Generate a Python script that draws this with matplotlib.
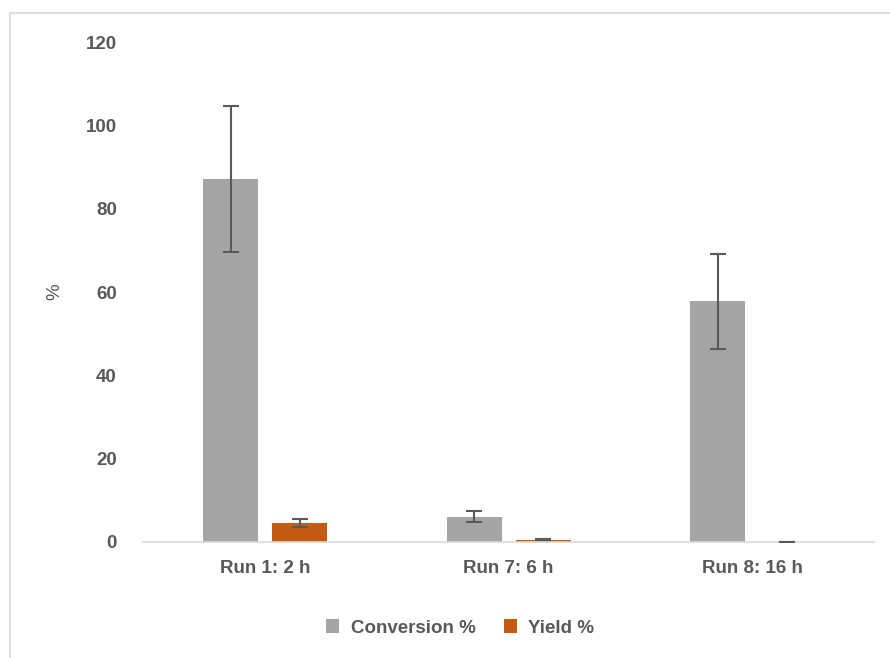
import matplotlib.pyplot as plt
from matplotlib.lines import Line2D
import numpy as np

categories = ["Run 1: 2 h", "Run 7: 6 h", "Run 8: 16 h"]
conversion = [87.1, 6.1, 57.8]
conversion_err = [17.5, 1.3, 11.4]
yield_pct = [4.6, 0.5, 0.0]
yield_err = [1.0, 0.1, 0.05]

plt.rcParams['font.family'] = ['Liberation Sans', 'DejaVu Sans']

fig = plt.figure(figsize=(8.9, 6.58), dpi=100)
ax = fig.add_axes([0.161, 0.1763, 0.821, 0.7597])

x = np.arange(len(categories))
w = 0.226
off = 0.1417
gray = "#A5A5A5"
orange = "#C55A11"
ecol = "#595959"

ax.bar(x - off, conversion, w, color=gray, label="Conversion %", zorder=2)
ax.bar(x + off, yield_pct, w, color=orange, label="Yield %", zorder=2)
ax.errorbar(x - off, conversion, yerr=conversion_err, fmt="none", ecolor=ecol,
            elinewidth=1.5, capsize=6, capthick=1.5, zorder=3)
ax.errorbar(x + off, yield_pct, yerr=yield_err, fmt="none", ecolor=ecol,
            elinewidth=1.5, capsize=6, capthick=1.5, zorder=3)

ax.set_xlim(-0.5, 2.5)
ax.set_ylim(0, 120)
ax.set_yticks(range(0, 121, 20))
ax.set_xticks(x)
ax.set_xticklabels(categories)
for s in ["top", "right", "left"]:
    ax.spines[s].set_visible(False)
ax.spines["bottom"].set_color("#D9D9D9")
ax.spines["bottom"].set_linewidth(1.2)
ax.tick_params(axis="both", length=0, labelsize=13.5, colors="#595959")
ax.tick_params(axis="y", pad=19)
ax.tick_params(axis="x", pad=13)
for lab in ax.get_xticklabels() + ax.get_yticklabels():
    lab.set_fontweight("bold")
ax.set_ylabel("%", fontsize=13.5, color="#595959")
ax.yaxis.set_label_coords(-0.11, 0.5)

leg = fig.legend(*ax.get_legend_handles_labels(), loc="center",
                 bbox_to_anchor=(460 / 890, 1 - 628 / 658), ncol=2, frameon=False,
                 prop={"weight": "bold", "size": 13.5}, handlelength=0.7,
                 handleheight=0.7, columnspacing=1.5, handletextpad=0.6)
for t in leg.get_texts():
    t.set_color("#595959")

# chart frame (only top and left edges are visible in the picture)
fig.add_artist(Line2D([10 / 890, 1], [1 - 12.5 / 658] * 2, color="#D9D9D9", lw=1.2,
                      transform=fig.transFigure))
fig.add_artist(Line2D([10 / 890] * 2, [0, 1 - 12.5 / 658], color="#D9D9D9", lw=1.2,
                      transform=fig.transFigure))

fig.savefig("out.png", dpi=100)
